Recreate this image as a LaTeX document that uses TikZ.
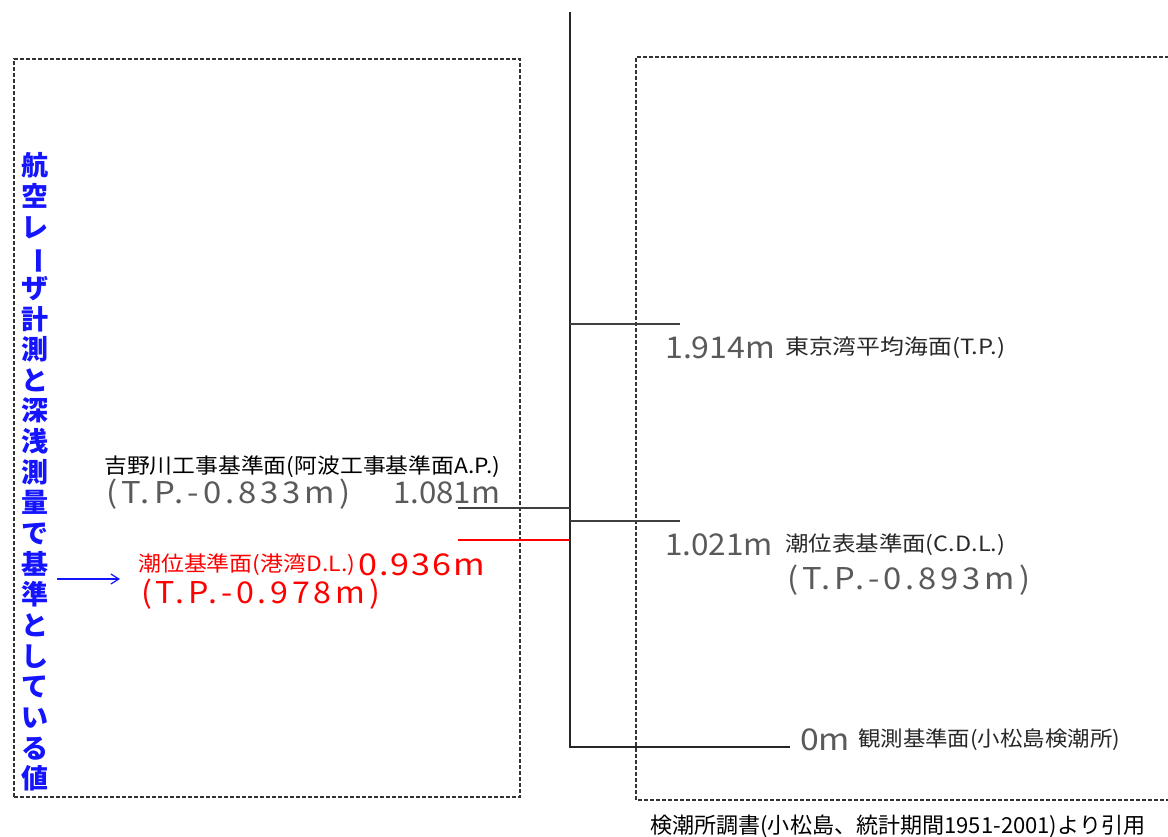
\documentclass[tikz,border=0pt]{standalone}
\usepackage{fontspec}
\usepackage{graphicx}
\setmainfont{Noto Sans CJK JP}
\usetikzlibrary{arrows.meta}
\definecolor{numgray}{RGB}{90,90,90}
\definecolor{lblgray}{RGB}{40,40,40}
\definecolor{dred}{RGB}{255,0,0}
\definecolor{dblue}{RGB}{20,20,255}
\newcommand\fitto[2]{\resizebox{#1}{\height}{#2}}
\newcommand\spaced[1]{\addfontfeature{LetterSpace=12}#1}
\tikzset{
  dashbox/.style={draw=black!80, line width=1.3pt, dash pattern=on 4pt off 2pt},
  axis/.style={draw=black!85, line width=2pt},
  tick/.style={draw=black!75, line width=1.6pt},
  redline/.style={draw=dred, line width=1.4pt},
  numtxt/.style={anchor=west, inner sep=0pt, text=numgray, font=\fontsize{30}{32}\selectfont},
  smalltxt/.style={anchor=west, inner sep=0pt, text=lblgray, font=\fontsize{21}{23}\selectfont},
  redtxt/.style={anchor=west, inner sep=0pt, text=dred, font=\fontsize{30}{32}\selectfont},
}
\begin{document}
\begin{tikzpicture}[x=1pt,y=-1pt]
\useasboundingbox (0,0) rectangle (1168,836);
% dashed boxes
\draw[dashbox] (14,797) -- (14,59) -- (520,59) -- (520,797) -- cycle;
\draw[dashbox] (1175,57) -- (636,57) -- (636,800) -- (1175,800);
% axis
\coordinate (atop) at (570,12);
\coordinate (abot) at (570,747);
\coordinate (zend) at (790,747);
\draw[axis] (atop) -- (abot) -- (zend);
% ticks
\coordinate (t1a) at (570,324); \coordinate (t1b) at (680,324);
\coordinate (t2a) at (570,521); \coordinate (t2b) at (680,521);
\coordinate (t3a) at (458,508); \coordinate (t3b) at (570,508);
\coordinate (t4a) at (458,540); \coordinate (t4b) at (570,540);
\draw[tick] (t1a) -- (t1b);
\draw[tick] (t2a) -- (t2b);
\draw[tick] (t3a) -- (t3b);
\draw[redline] (t4a) -- (t4b);
% right labels
\node[numtxt] (n1914) at (665,348) {\fitto{110pt}{1.914m}};
\node[smalltxt] (ltp) at (785,348) {\fitto{220pt}{東京湾平均海面(T.P.)}};
\node[numtxt] (n1021) at (665,545) {\fitto{108pt}{1.021m}};
\node[smalltxt] (lcdl) at (785,545) {\fitto{220pt}{潮位表基準面(C.D.L.)}};
\node[numtxt] (n0893) at (787,580) {\fitto{243pt}{\spaced{(T.P.-0.893m)}}};
\node[numtxt] (n0) at (800,740) {\fitto{50pt}{0m}};
\node[smalltxt] (lobs) at (858,740) {\fitto{262pt}{観測基準面(小松島検潮所)}};
\node[anchor=west, inner sep=0pt, text=black, font=\fontsize{22}{24}\selectfont] (src) at (650,826) {\fitto{495pt}{検潮所調書(小松島、統計期間1951-2001)より引用}};
% left labels
\node[smalltxt, text=black] (lap) at (104,467) {\fitto{396pt}{吉野川工事基準面(阿波工事基準面A.P.)}};
\node[numtxt] (n0833) at (106,494) {\fitto{244pt}{\spaced{(T.P.-0.833m)}}};
\node[numtxt] (n1081) at (393,493) {\fitto{107pt}{1.081m}};
\node[smalltxt, text=dred] (ldl) at (138,565) {\fitto{217pt}{潮位基準面(港湾D.L.)}};
\node[redtxt] (n0936) at (358,565) {\fitto{127pt}{\addfontfeature{LetterSpace=6}0.936m}};
\node[redtxt] (n0978) at (141,594) {\fitto{239pt}{\spaced{(T.P.-0.978m)}}};
% vertical blue text
\node[inner sep=0pt, align=center, text=dblue, font=\fontsize{27}{30.65}\selectfont\bfseries] (vt) at (35,472)
  {航\\空\\レ\\\rotatebox[origin=c]{-90}{ー}\\ザ\\計\\測\\と\\深\\浅\\測\\量\\で\\基\\準\\と\\し\\て\\い\\る\\値};
\coordinate (arrs) at (57,579);
\coordinate (arre) at (120,579);
\draw[dblue, line width=1.2pt, -{Straight Barb[length=8pt,width=10pt]}] (arrs) -- (arre);
\end{tikzpicture}
\end{document}
